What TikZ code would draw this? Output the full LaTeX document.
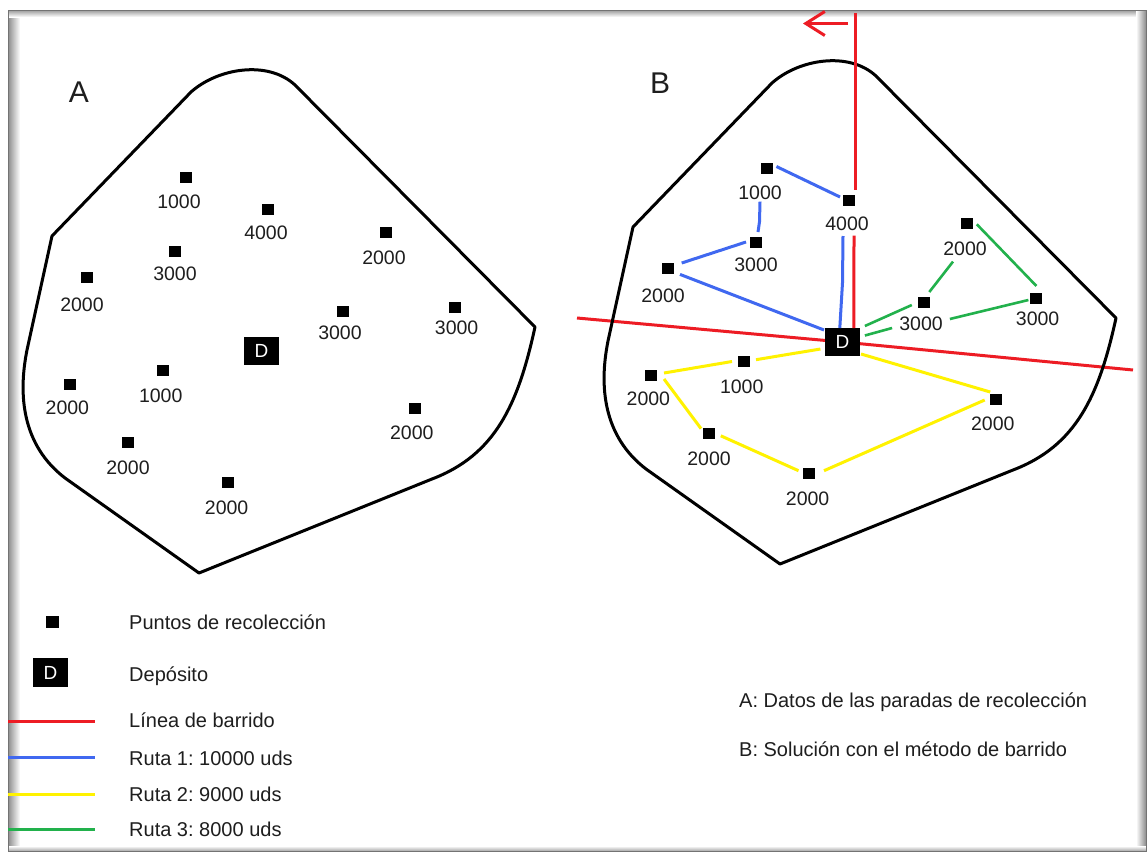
\documentclass[tikz,border=0pt]{standalone}
\usepackage{fontspec}
\setmainfont{Liberation Sans}
\usetikzlibrary{calc,arrows.meta}
\pgfdeclarelayer{back}
\pgfdeclarelayer{bg}
\pgfsetlayers{back,bg,main}
\frenchspacing

\definecolor{sweepred}{HTML}{ED1C24}
\definecolor{routeblue}{HTML}{4068F0}
\definecolor{routeyellow}{HTML}{FFF200}
\definecolor{routegreen}{HTML}{22B14C}
\definecolor{inktext}{HTML}{1E1E1E}

\tikzset{
  zone/.style={draw=black, line width=3pt, line join=round},
  stop/.style={fill=black, minimum width=12pt, minimum height=11pt, inner sep=0pt},
  depot/.style={fill=black, text=white, minimum width=35pt, minimum height=28pt,
    inner sep=0pt, font=\fontsize{19}{19}\selectfont},
  qty/.style={inner sep=0pt, text=inktext, font=\fontsize{19.5}{19.5}\selectfont},
  legendtext/.style={inner sep=0pt, anchor=base west, text=inktext,
    font=\fontsize{20}{20}\selectfont},
  title/.style={inner sep=0pt, text=inktext, font=\fontsize{30}{30}\selectfont},
  sweep/.style={draw=sweepred, line width=3pt},
  rblue/.style={draw=routeblue, line width=3pt},
  ryellow/.style={draw=routeyellow, line width=3pt},
  rgreen/.style={draw=routegreen, line width=2.6pt},
}

% one service area with its collection stops and the depot
\newcommand\servicearea[3]{%
  \begin{scope}[shift={(#2,#3)}]
    \draw[zone] (52,236) -- (191,92) .. controls (218,68) and (268,60) .. (295,85)
      -- (535,327) .. controls (518,405) and (495,455) .. (432,479)
      -- (199,573) -- (65,478) .. controls (22,445) and (18,395) .. (27,350) -- cycle;
    \node[stop] (#1p1)  at (185.6,177.2) {}; \node[qty] (#1l1)  at (179,201.7) {1000};
    \node[stop] (#1p2)  at (268,209.7)   {}; \node[qty] (#1l2)  at (266,232.7) {4000};
    \node[stop] (#1p3)  at (175,251.8)   {}; \node[qty] (#1l3)  at (175,274)   {3000};
    \node[stop] (#1p4)  at (87.3,277.8)  {}; \node[qty] (#1l4)  at (82,305)    {2000};
    \node[stop] (#1p5)  at (385.8,232.3) {}; \node[qty] (#1l5)  at (384,257.6) {2000};
    \node[stop] (#1p6)  at (343.3,311)   {}; \node[qty] (#1l6)  at (340,333)   {3000};
    \node[stop] (#1p7)  at (455.4,307)   {}; \node[qty] (#1l7)  at (456.6,328) {3000};
    \node[stop] (#1p8)  at (163.4,370.5) {}; \node[qty] (#1l8)  at (160.7,395.7) {1000};
    \node[stop] (#1p9)  at (70.4,384)    {}; \node[qty] (#1l9)  at (67.4,408)  {2000};
    \node[stop] (#1p10) at (127.8,442.8) {}; \node[qty] (#1l10) at (128,467.7) {2000};
    \node[stop] (#1p11) at (415.2,408.7) {}; \node[qty] (#1l11) at (411.8,433.2) {2000};
    \node[stop] (#1p12) at (228,482.2)   {}; \node[qty] (#1l12) at (226.6,508) {2000};
    \node[depot] (#1D) at (261.4,351) {D};
  \end{scope}}

\begin{document}
\begin{tikzpicture}[x=1pt,y=-1pt]
  \useasboundingbox (0,0) rectangle (1148,854);

  \begin{pgfonlayer}{back}
    \fill[white] (0,0) rectangle (1148,854);
    % window frame with soft inner shadow
    \shade[left color=black!45, right color=white] (8,10) rectangle (20,851);
    \shade[top color=black!40, bottom color=white] (8,10) rectangle (1146,17);
    \shade[left color=white, right color=black!45] (1136,10) rectangle (1146,851);
    \shade[top color=white, bottom color=black!35] (8,846) rectangle (1146,851);
    \draw[black!55, line width=0.8pt] (8,10) rectangle (1146,851);
  \end{pgfonlayer}

  % panel titles
  \node[title] (titleA) at (79,92) {A};
  \node[title] (titleB) at (660,83) {B};

  % stop data and the swept solution
  \servicearea{a}{0}{0}
  \servicearea{b}{581}{-9}

  % sweep line
  \coordinate (sweepN) at (855,13);
  \coordinate (sweepW) at (577,318);
  \coordinate (sweepE) at (1133,370);
  \coordinate (arrowTail) at (848,23.5);
  \coordinate (arrowHead) at (803,23.5);

  \begin{pgfonlayer}{bg}
    \draw[sweep] (sweepW) -- (bD.center) -- (sweepE);
  \end{pgfonlayer}
  \draw[sweep] (sweepN) -- ($(bp2)+(6,-11)$);
  \draw[sweep] ($(bl2)+(7,12)$) -- ($(bD)+(11.5,-14)$);
  \draw[sweep, -{Straight Barb[length=19pt,width=24pt]}] (arrowTail) -- (arrowHead);

  % route 1
  \draw[rblue] ($(bl2)+(-4,12.3)$) -- ($(bl2)+(-4.5,59)$) -- ($(bD)+(-2.6,-14)$);
  \draw[rblue] ($(bp2)+(-9,-3.7)$) -- ($(bp1)+(9.8,-1.7)$);
  \draw[rblue] ($(bl1)+(0,9)$) -- ($(bl1)+(-0.5,29)$) -- ($(bp3)+(2,-10.8)$);
  \draw[rblue] ($(bp3)+(-10,-0.8)$) -- ($(bp4)+(13.4,-5.8)$);
  \draw[rblue] ($(bp4)+(11.7,5.6)$) -- ($(bD)+(-18.4,-12)$);

  % route 2
  \draw[ryellow] ($(bD)+(-22,7)$) -- ($(bp8)+(11.6,-1.8)$);
  \draw[ryellow] ($(bp8)+(-12.4,0)$) -- ($(bp9)+(12.6,-2)$);
  \draw[ryellow] ($(bp9)+(12.6,4)$) -- ($(bp10)+(-7.8,-5.2)$);
  \draw[ryellow] ($(bp10)+(12,2)$) -- ($(bp12)+(-10.5,-2.5)$);
  \draw[ryellow] ($(bp12)+(15,-2.5)$) -- ($(bp11)+(-11.5,0.3)$);
  \draw[ryellow] ($(bp11)+(-6,-7.7)$) -- ($(bD)+(18.6,12)$);

  % route 3
  \draw[rgreen] ($(bD)+(22.5,-16)$) -- ($(bp6)+(-12.5,3)$);
  \draw[rgreen] ($(bp6)+(5,-10)$) -- ($(bl5)+(-12,13)$);
  \draw[rgreen] ($(bp5)+(10,1)$) -- ($(bp7)+(0,-12)$);
  \draw[rgreen] ($(bp7)+(-8,2)$) -- ($(bl6.east)+(7,-5)$);
  \draw[rgreen] ($(bl6.west)+(-7,4)$) -- ($(bD)+(22.5,-6.5)$);

  % legend
  \node[stop, minimum width=13pt, minimum height=12pt] (keyStop) at (52,622) {};
  \node[legendtext] (keyStopText) at (129,629) {Puntos de recolección};
  \node[depot, minimum height=29pt] (keyDepot) at (50.5,672.5) {D};
  \node[legendtext] (keyDepotText) at (129,681.5) {Depósito};

  \coordinate (keyRedA) at (8,721);    \coordinate (keyRedB) at (95,721);
  \coordinate (keyBlueA) at (8,757.5); \coordinate (keyBlueB) at (95,757.5);
  \coordinate (keyYelA) at (8,794);    \coordinate (keyYelB) at (95,794);
  \coordinate (keyGrnA) at (8,829);    \coordinate (keyGrnB) at (95,829);
  \draw[sweep] (keyRedA) -- (keyRedB);
  \draw[rblue] (keyBlueA) -- (keyBlueB);
  \draw[ryellow] (keyYelA) -- (keyYelB);
  \draw[rgreen, line width=3pt] (keyGrnA) -- (keyGrnB);
  \node[legendtext] (keyRedText)  at (129,727.3) {Línea de barrido};
  \node[legendtext] (keyBlueText) at (129,765)   {Ruta 1: 10000 uds};
  \node[legendtext] (keyYelText)  at (129,801.7) {Ruta 2: 9000 uds};
  \node[legendtext] (keyGrnText)  at (129,836)   {Ruta 3: 8000 uds};

  \node[legendtext] (noteA) at (739,707.3) {A: Datos de las paradas de recolección};
  \node[legendtext] (noteB) at (739,756)   {B: Solución con el método de barrido};
\end{tikzpicture}
\end{document}
